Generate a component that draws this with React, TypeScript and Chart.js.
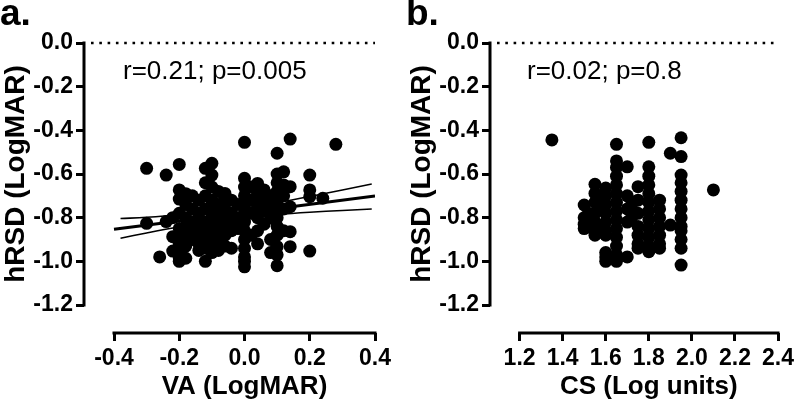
import React, { useEffect, useRef } from "react";
import { Chart, registerables } from "chart.js";

Chart.register(...registerables);

const FONT = "'Liberation Sans', Arial, Helvetica, sans-serif";

// ---------- Panel a: VA vs hRSD ----------
const vaX = [
  -0.30, -0.30,
  -0.26,
  -0.24, -0.24,
  -0.22, -0.22, -0.22,
  -0.20, -0.20, -0.20, -0.20, -0.20, -0.20, -0.20, -0.20, -0.20, -0.20,
  -0.18, -0.18, -0.18, -0.18, -0.18, -0.18, -0.18,
  -0.16, -0.16, -0.16, -0.16, -0.16,
  -0.14, -0.14, -0.14, -0.14, -0.14, -0.14,
  -0.12, -0.12, -0.12, -0.12, -0.12, -0.12, -0.12, -0.12, -0.12,
  -0.10, -0.10, -0.10, -0.10, -0.10, -0.10, -0.10, -0.10, -0.10, -0.10,
  -0.08, -0.08, -0.08, -0.08, -0.08, -0.08, -0.08,
  -0.06, -0.06, -0.06, -0.06, -0.06, -0.06, -0.06,
  -0.04, -0.04, -0.04, -0.04, -0.04,
  -0.02, -0.02, -0.02,
  0.00, 0.00, 0.00, 0.00, 0.00, 0.00, 0.00, 0.00, 0.00, 0.00, 0.00, 0.00, 0.00,
  0.02, 0.02, 0.02, 0.02,
  0.04, 0.04, 0.04, 0.04, 0.04, 0.04,
  0.06, 0.06, 0.06, 0.06,
  0.08, 0.08, 0.08, 0.08, 0.08,
  0.10, 0.10, 0.10, 0.10, 0.10, 0.10, 0.10, 0.10, 0.10, 0.10, 0.10, 0.10,
  0.12, 0.12, 0.12, 0.12, 0.12,
  0.14, 0.14, 0.14, 0.14, 0.14,
  0.20, 0.20, 0.20, 0.20,
  0.24,
  0.28,
];
const vaY = [
  -0.574, -0.826,
  -0.98,
  -0.605, -0.818,
  -0.80, -0.887, -0.953,
  -0.556, -0.673, -0.715, -0.78, -0.85, -0.88, -0.92, -0.95, -0.985, -1.0,
  -0.69, -0.74, -0.80, -0.84, -0.88, -0.93, -0.986,
  -0.70, -0.76, -0.82, -0.86, -0.90,
  -0.72, -0.78, -0.83, -0.87, -0.92, -0.95,
  -0.574, -0.64, -0.70, -0.76, -0.82, -0.86, -0.90, -0.94, -1.0,
  -0.551, -0.605, -0.66, -0.72, -0.77, -0.80, -0.84, -0.88, -0.92, -0.96,
  -0.68, -0.74, -0.79, -0.83, -0.87, -0.91, -0.95,
  -0.689, -0.71, -0.76, -0.80, -0.84, -0.88, -0.93,
  -0.72, -0.78, -0.82, -0.86, -0.94,
  -0.74, -0.80, -0.85,
  -0.455, -0.62, -0.66, -0.70, -0.74, -0.78, -0.82, -0.86, -0.90, -0.94, -0.98, -1.0, -1.025,
  -0.66, -0.72, -0.78, -0.88,
  -0.643, -0.69, -0.74, -0.80, -0.86, -0.92,
  -0.673, -0.72, -0.77, -0.83,
  -0.70, -0.75, -0.80, -0.90, -0.96,
  -0.505, -0.60, -0.64, -0.68, -0.72, -0.76, -0.80, -0.84, -0.88, -0.933, -0.97, -1.02,
  -0.59, -0.65, -0.70, -0.76, -0.86,
  -0.44, -0.658, -0.75, -0.864, -0.933,
  -0.605, -0.673, -0.704, -0.953,
  -0.711,
  -0.464,
];
const vaFitX = [-0.4, 0.4];
const vaFitY = [-0.853, -0.701];
const vaBandX = [-0.38, -0.3, -0.2, -0.1, 0.0, 0.1, 0.2, 0.3, 0.39];
const vaBandUpper = [-0.804, -0.798, -0.788, -0.775, -0.756, -0.731, -0.703, -0.673, -0.646];
const vaBandLower = [-0.894, -0.870, -0.842, -0.817, -0.798, -0.785, -0.775, -0.767, -0.760];
const vaTicks = [-0.4, -0.2, 0.0, 0.2, 0.4];

// ---------- Panel b: CS vs hRSD ----------
const csX = [
  1.35,
  1.50, 1.50, 1.50, 1.50,
  1.52, 1.52,
  1.55, 1.55, 1.55, 1.55, 1.55, 1.55, 1.55,
  1.58, 1.58, 1.58,
  1.60, 1.60, 1.60, 1.60, 1.60, 1.60, 1.60, 1.60, 1.60, 1.60,
  1.65, 1.65, 1.65, 1.65, 1.65, 1.65, 1.65, 1.65, 1.65, 1.65, 1.65, 1.65, 1.65, 1.65,
  1.70, 1.70, 1.70, 1.70, 1.70,
  1.72, 1.72,
  1.75, 1.75, 1.75, 1.75, 1.75, 1.75, 1.75,
  1.80, 1.80, 1.80, 1.80, 1.80, 1.80, 1.80, 1.80, 1.80, 1.80, 1.80, 1.80,
  1.85, 1.85, 1.85, 1.85, 1.85, 1.85, 1.85,
  1.90, 1.90,
  1.95, 1.95, 1.95, 1.95, 1.95, 1.95, 1.95, 1.95, 1.95, 1.95, 1.95, 1.95, 1.95,
  2.10,
];
const csY = [
  -0.444,
  -0.742, -0.80, -0.83, -0.85,
  -0.78, -0.82,
  -0.647, -0.689, -0.73, -0.78, -0.82, -0.86, -0.88,
  -0.70, -0.76, -0.84,
  -0.664, -0.70, -0.74, -0.78, -0.82, -0.86, -0.88, -0.96, -0.98, -1.0,
  -0.464, -0.54, -0.57, -0.61, -0.65, -0.69, -0.73, -0.77, -0.81, -0.85, -0.89, -0.93, -0.97, -1.0,
  -0.567, -0.70, -0.76, -0.82, -0.98,
  -0.74, -0.80,
  -0.658, -0.72, -0.78, -0.84, -0.88, -0.92, -0.94,
  -0.455, -0.567, -0.61, -0.65, -0.69, -0.73, -0.77, -0.81, -0.85, -0.89, -0.93, -0.956,
  -0.72, -0.76, -0.80, -0.84, -0.88, -0.92, -0.94,
  -0.505, -0.834,
  -0.434, -0.52, -0.605, -0.64, -0.68, -0.72, -0.76, -0.80, -0.84, -0.86, -0.90, -0.94, -1.017,
  -0.673,
];
const csTicks = [1.2, 1.4, 1.6, 1.8, 2.0, 2.2, 2.4];

// ---------- Shared y axis ----------
const hrsdTicks = [0.0, -0.2, -0.4, -0.6, -0.8, -1.0, -1.2];
const yTitle = "hRSD (LogMAR)";

type LineSet = { xs: number[]; ys: number[]; width: number };

type PanelDef = {
  pageLeft: number;
  width: number;
  axisX: number;
  xStartPx: number;
  xEndPx: number;
  xTicks: number[];
  xs: number[];
  ys: number[];
  lines: LineSet[];
  letter: string;
  xTitle: string;
  note: string;
  noteX: number;
};

const H = 408;
const Y_TOP = 43;
const Y_BOT = 305;
const X_AXIS_Y = 333;

function Panel({ def }: { def: PanelDef }) {
  const ref = useRef<HTMLCanvasElement | null>(null);
  useEffect(() => {
    const canvas = ref.current;
    if (!canvas) return;
    const d = def;
    const xT0 = d.xTicks[0];
    const xT1 = d.xTicks[d.xTicks.length - 1];
    const pxPerX = (d.xEndPx - d.xStartPx) / (xT1 - xT0);
    const xMin = xT0 - (d.xStartPx - d.axisX) / pxPerX;
    const yT0 = hrsdTicks[0];
    const yT1 = hrsdTicks[hrsdTicks.length - 1];
    const pxPerY = (Y_BOT - Y_TOP) / (yT0 - yT1);
    const yMin = yT0 - (X_AXIS_Y - Y_TOP) / pxPerY;

    const deco = {
      id: "deco",
      beforeDatasetsDraw(chart: any) {
        const { ctx, chartArea, scales } = chart;
        const x = scales.x, y = scales.y;
        ctx.save();
        ctx.strokeStyle = "#000";
        ctx.lineWidth = 2.6;
        ctx.setLineDash([2.6, 5.7]);
        ctx.beginPath();
        const y0 = y.getPixelForValue(0);
        ctx.moveTo(chartArea.left + 7, y0);
        ctx.lineTo(x.getPixelForValue(xT1), y0);
        ctx.stroke();
        ctx.restore();
      },
      afterDraw(chart: any) {
        const { ctx, chartArea, scales } = chart;
        const x = scales.x, y = scales.y;
        ctx.save();
        ctx.strokeStyle = "#000";
        ctx.lineWidth = 3;
        ctx.setLineDash([]);
        ctx.beginPath();
        ctx.moveTo(chartArea.left, y.getPixelForValue(yT0) - 1.5);
        ctx.lineTo(chartArea.left, y.getPixelForValue(yT1) + 1.5);
        ctx.stroke();
        ctx.beginPath();
        ctx.moveTo(x.getPixelForValue(xT0) - 1.5, chartArea.bottom);
        ctx.lineTo(x.getPixelForValue(xT1) + 1.5, chartArea.bottom);
        ctx.stroke();

        ctx.fillStyle = "#000";
        ctx.font = `bold 37px ${FONT}`;
        ctx.textAlign = "left";
        ctx.textBaseline = "alphabetic";
        ctx.fillText(d.letter, d.axisX - 84, 25);
        ctx.font = `26px ${FONT}`;
        ctx.fillText(d.note, d.noteX, 79);
        ctx.font = `bold 26px ${FONT}`;
        ctx.textAlign = "center";
        ctx.textBaseline = "middle";
        const xc = (x.getPixelForValue(xT0) + x.getPixelForValue(xT1)) / 2;
        ctx.fillText(d.xTitle, xc, 387);
        const yc = (y.getPixelForValue(yT0) + y.getPixelForValue(yT1)) / 2;
        ctx.font = `bold 28px ${FONT}`;
        ctx.translate(d.axisX - 68, yc);
        ctx.rotate(-Math.PI / 2);
        ctx.fillText(yTitle, 0, 0);
        ctx.restore();
      },
    };

    const datasets: any[] = [
      {
        type: "scatter",
        data: d.xs.map((v, i) => ({ x: v, y: d.ys[i] })),
        backgroundColor: "#000",
        borderColor: "#000",
        borderWidth: 0,
        pointRadius: 6.5,
        pointHoverRadius: 6.5,
      },
      ...d.lines.map((l) => ({
        type: "scatter",
        data: l.xs.map((v, i) => ({ x: v, y: l.ys[i] })),
        showLine: true,
        borderColor: "#000",
        borderWidth: l.width,
        pointRadius: 0,
        tension: 0.4,
        fill: false,
      })),
    ];

    const tickFont = { family: FONT, size: 23, weight: "bold" };

    const chart = new Chart(canvas, {
      type: "scatter",
      data: { datasets },
      options: {
        animation: false,
        responsive: false,
        devicePixelRatio: 1,
        events: [],
        layout: { padding: { left: 0, top: Y_TOP, right: d.width - d.xEndPx, bottom: 0 } },
        plugins: { legend: { display: false }, tooltip: { enabled: false } },
        scales: {
          x: {
            type: "linear",
            min: xMin,
            max: xT1,
            afterBuildTicks: (s: any) => {
              s.ticks = d.xTicks.map((v) => ({ value: v }));
            },
            afterFit: (s: any) => {
              s.height = H - X_AXIS_Y;
            },
            border: { display: false },
            grid: {
              display: true,
              drawOnChartArea: false,
              drawTicks: true,
              tickLength: 8,
              lineWidth: 3,
              color: "#000",
            },
            ticks: {
              autoSkip: false,
              maxRotation: 0,
              padding: 4,
              color: "#000",
              font: tickFont,
              callback: (v: any) => Number(v).toFixed(1),
            },
          },
          y: {
            type: "linear",
            min: yMin,
            max: yT0,
            afterBuildTicks: (s: any) => {
              s.ticks = hrsdTicks.map((v) => ({ value: v }));
            },
            afterFit: (s: any) => {
              s.width = d.axisX;
            },
            border: { display: false },
            grid: {
              display: true,
              drawOnChartArea: false,
              drawTicks: true,
              tickLength: 8,
              lineWidth: 3,
              color: "#000",
            },
            ticks: {
              autoSkip: false,
              padding: 3,
              color: "#000",
              font: tickFont,
              callback: (v: any) => Number(v).toFixed(1),
            },
          },
        },
      },
      plugins: [deco],
    } as any);
    return () => chart.destroy();
  }, [def]);

  return (
    <div style={{ position: "absolute", left: def.pageLeft, top: 0, width: def.width, height: H }}>
      <canvas ref={ref} width={def.width} height={H} style={{ display: "block" }} />
    </div>
  );
}

const panelA: PanelDef = {
  pageLeft: 0,
  width: 400,
  axisX: 84,
  xStartPx: 114,
  xEndPx: 375,
  xTicks: vaTicks,
  xs: vaX,
  ys: vaY,
  lines: [
    { xs: vaFitX, ys: vaFitY, width: 3 },
    { xs: vaBandX, ys: vaBandUpper, width: 1.6 },
    { xs: vaBandX, ys: vaBandLower, width: 1.6 },
  ],
  letter: "a.",
  xTitle: "VA (LogMAR)",
  note: "r=0.21; p=0.005",
  noteX: 123,
};

const panelB: PanelDef = {
  pageLeft: 400,
  width: 398,
  axisX: 90,
  xStartPx: 120,
  xEndPx: 382,
  xTicks: csTicks,
  xs: csX,
  ys: csY,
  lines: [],
  letter: "b.",
  xTitle: "CS (Log units)",
  note: "r=0.02; p=0.8",
  noteX: 127,
};

export default function App() {
  return (
    <div style={{ position: "absolute", left: 0, top: 0, width: 798, height: H, background: "#fff" }}>
      <Panel def={panelA} />
      <Panel def={panelB} />
    </div>
  );
}
